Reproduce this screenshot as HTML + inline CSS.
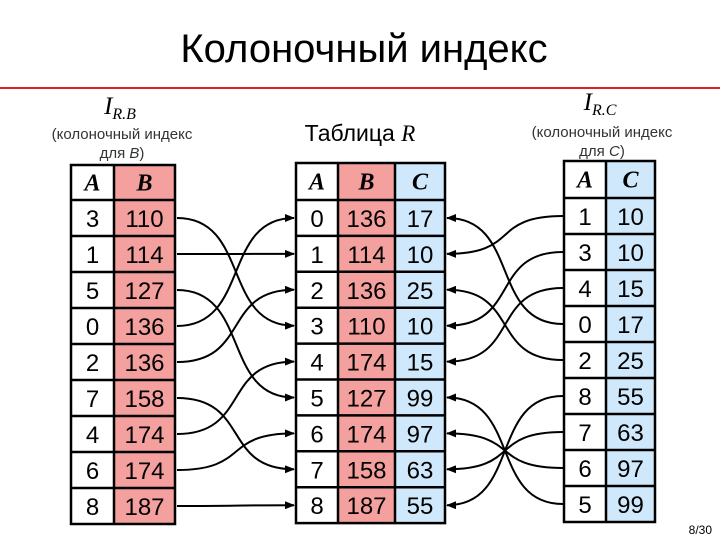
<!DOCTYPE html>
<html><head><meta charset="utf-8"><style>
html,body{margin:0;padding:0;background:#fff;}
svg{display:block;}
.n{font-family:"Liberation Sans",sans-serif;font-size:24px;fill:#000;text-anchor:middle;}
.h{font-family:"Liberation Serif",serif;font-size:24px;font-style:italic;font-weight:bold;text-anchor:middle;}
.s{font-family:"Liberation Sans",sans-serif;font-size:15px;fill:#333;text-anchor:middle;}
</style></head><body>
<svg width="720" height="540" viewBox="0 0 720 540" xmlns="http://www.w3.org/2000/svg">
<defs><marker id="ar" markerWidth="10" markerHeight="8" refX="9" refY="4" orient="auto" markerUnits="userSpaceOnUse"><path d="M0,0 L10,4 L0,8 z" fill="#000"/></marker></defs>
<text x="364" y="62" font-family="Liberation Sans, sans-serif" font-size="40" text-anchor="middle">Колоночный индекс</text>
<rect x="0" y="87" width="720" height="2" fill="#e02020"/>
<text x="120" y="114" font-family="Liberation Serif, serif" font-style="italic" font-size="25" text-anchor="middle">I<tspan font-size="16" dy="5">R.B</tspan></text>
<text class="s" x="122" y="139">(колоночный индекс</text>
<text class="s" x="122" y="158">для <tspan font-style="italic">B</tspan>)</text>
<text x="360" y="141" font-family="Liberation Sans, sans-serif" font-size="23" text-anchor="middle">Таблица <tspan font-family="Liberation Serif, serif" font-style="italic">R</tspan></text>
<text x="600" y="110" font-family="Liberation Serif, serif" font-style="italic" font-size="25" text-anchor="middle">I<tspan font-size="16" dy="5">R.C</tspan></text>
<text class="s" x="602" y="137">(колоночный индекс</text>
<text class="s" x="602" y="156">для <tspan font-style="italic">C</tspan>)</text>
<g id="tables"></g>
<g id="arrows" fill="none" stroke="#000" stroke-width="2"></g>
<text x="712" y="534" font-family="Liberation Sans, sans-serif" font-size="12" text-anchor="end">8/30</text>
</svg>
<script>
var NS="http://www.w3.org/2000/svg";
function el(p,t,a,txt){var e=document.createElementNS(NS,t);for(var k in a)e.setAttribute(k,a[k]);if(txt!=null)e.textContent=txt;p.appendChild(e);return e;}
var T=document.getElementById("tables"),A=document.getElementById("arrows");
function table(xs,fills,top,hb,rh,heads,rows){
 var n=rows.length,bot=hb+rh*n;
 for(var c=0;c<heads.length;c++){
  el(T,"rect",{x:xs[c],y:top,width:xs[c+1]-xs[c],height:bot-top,fill:fills[c]});
  el(T,"text",{x:(xs[c]+xs[c+1])/2,y:(top+hb)/2+8,"class":"h"},heads[c]);
  for(var r=0;r<n;r++)el(T,"text",{x:(xs[c]+xs[c+1])/2,y:hb+rh*r+rh/2+9,"class":"n"},rows[r][c]);
 }
 var g={fill:"none",stroke:"#000","stroke-width":2.5};
 el(T,"rect",Object.assign({x:xs[0],y:top,width:xs[xs.length-1]-xs[0],height:bot-top},g));
 for(var c=1;c<heads.length;c++)el(T,"line",Object.assign({x1:xs[c],y1:top,x2:xs[c],y2:bot},g));
 el(T,"line",Object.assign({x1:xs[0],y1:hb,x2:xs[xs.length-1],y2:hb},g));
 for(var r=1;r<n;r++)el(T,"line",Object.assign({x1:xs[0],y1:hb+rh*r,x2:xs[xs.length-1],y2:hb+rh*r},g));
}
var P="#f4a09e",B="#cfe8fb";
var L=[[3,110],[1,114],[5,127],[0,136],[2,136],[7,158],[4,174],[6,174],[8,187]];
var M=[[0,136,17],[1,114,10],[2,136,25],[3,110,10],[4,174,15],[5,127,99],[6,174,97],[7,158,63],[8,187,55]];
var R=[[1,10],[3,10],[4,15],[0,17],[2,25],[8,55],[7,63],[6,97],[5,99]];
table([71,114,175],["#fff",P],165,200,36,["A","B"],L);
table([296,338,395,445],["#fff",P,B],163,200,35.9,["A","B","C"],M);
table([564,606,655],["#fff",B],161,198,36,["A","C"],R);
for(var i=0;i<9;i++){
 var y1=200+36*i+18,a=L[i][0],y2=200+35.9*a+18;
 el(A,"path",{d:"M177,"+y1+" C250,"+y1+" 222,"+y2+" 294,"+y2,"marker-end":"url(#ar)"});
 var y3=198+36*i+18,b=R[i][0],y4=200+35.9*b+18;
 el(A,"path",{d:"M563,"+y3+" C490,"+y3+" 520,"+y4+" 447,"+y4,"marker-end":"url(#ar)"});
}
</script>
</body></html>
